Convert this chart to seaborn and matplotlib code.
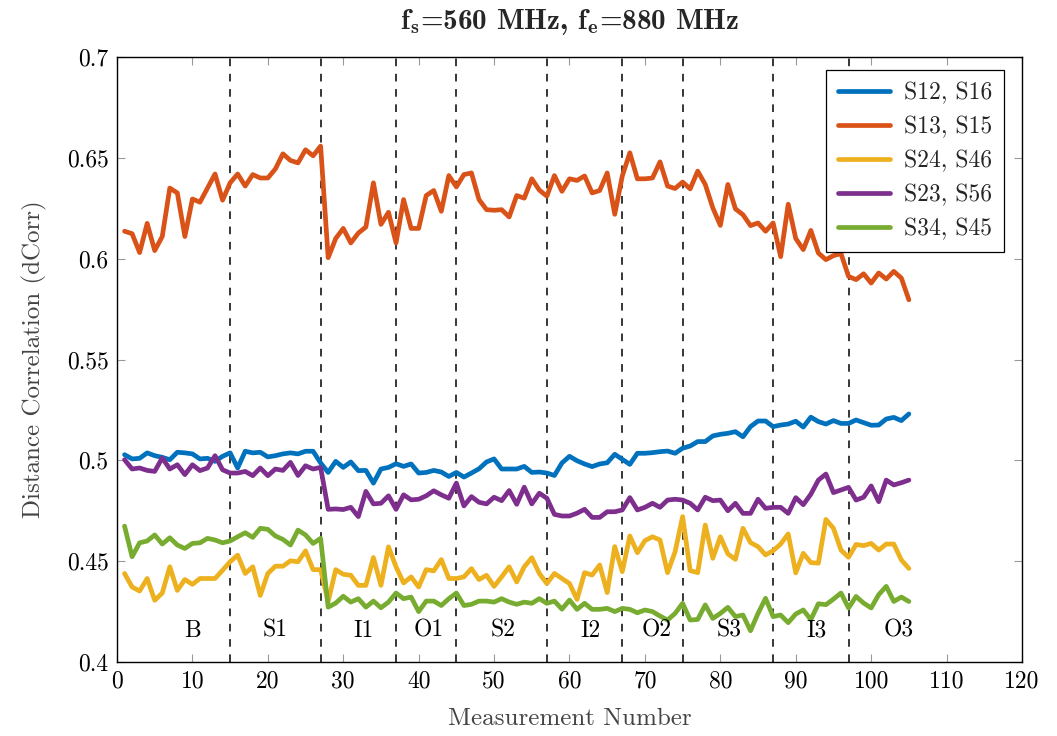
import numpy as np
import pandas as pd
import matplotlib
matplotlib.use("Agg")
import matplotlib.pyplot as plt
import seaborn as sns

measurement = list(range(1, 106))

s12_s16 = [0.5028, 0.5007, 0.5010, 0.5037, 0.5023, 0.5015, 0.5003, 0.5040, 0.5037, 0.5032,
           0.5007, 0.5010, 0.4995, 0.5020, 0.5037, 0.4962, 0.5045, 0.5037, 0.5040, 0.5017,
           0.5023, 0.5032, 0.5037, 0.5032, 0.5045, 0.5045, 0.4987, 0.4940, 0.4995, 0.4965,
           0.4992, 0.4949, 0.4950, 0.4887, 0.4957, 0.4965, 0.4983, 0.4970, 0.4982, 0.4937,
           0.4940, 0.4950, 0.4942, 0.4920, 0.4940, 0.4917, 0.4937, 0.4958, 0.4992, 0.5007,
           0.4957, 0.4957, 0.4957, 0.4970, 0.4940, 0.4942, 0.4937, 0.4925, 0.4987, 0.5020,
           0.4998, 0.4982, 0.4969, 0.4982, 0.4988, 0.5030, 0.5005, 0.4980, 0.5035, 0.5035,
           0.5038, 0.5043, 0.5046, 0.5035, 0.5060, 0.5071, 0.5093, 0.5093, 0.5121, 0.5129,
           0.5134, 0.5142, 0.5117, 0.5167, 0.5195, 0.5195, 0.5167, 0.5175, 0.5180, 0.5194,
           0.5165, 0.5214, 0.5192, 0.5180, 0.5197, 0.5183, 0.5183, 0.5200, 0.5187, 0.5174,
           0.5175, 0.5205, 0.5213, 0.5197, 0.5230]

s13_s15 = [0.6136, 0.6124, 0.6030, 0.6175, 0.6040, 0.6110, 0.6350, 0.6326, 0.6110, 0.6296,
           0.6280, 0.6350, 0.6420, 0.6290, 0.6376, 0.6420, 0.6360, 0.6417, 0.6400, 0.6400,
           0.6445, 0.6520, 0.6487, 0.6475, 0.6540, 0.6510, 0.6558, 0.6005, 0.6100, 0.6150,
           0.6078, 0.6127, 0.6157, 0.6376, 0.6170, 0.6230, 0.6078, 0.6293, 0.6150, 0.6150,
           0.6313, 0.6338, 0.6235, 0.6412, 0.6356, 0.6417, 0.6425, 0.6293, 0.6243, 0.6240,
           0.6243, 0.6207, 0.6313, 0.6300, 0.6396, 0.6340, 0.6310, 0.6412, 0.6334, 0.6396,
           0.6388, 0.6410, 0.6326, 0.6338, 0.6425, 0.6220, 0.6410, 0.6525, 0.6396, 0.6396,
           0.6400, 0.6480, 0.6360, 0.6348, 0.6380, 0.6346, 0.6434, 0.6368, 0.6252, 0.6165,
           0.6368, 0.6247, 0.6218, 0.6164, 0.6177, 0.6136, 0.6177, 0.6010, 0.6270, 0.6100,
           0.6045, 0.6140, 0.6028, 0.5995, 0.6015, 0.6025, 0.5912, 0.5896, 0.5925, 0.5879,
           0.5929, 0.5899, 0.5937, 0.5904, 0.5796]

s24_s46 = [0.4439, 0.4372, 0.4352, 0.4414, 0.4306, 0.4342, 0.4472, 0.4355, 0.4409, 0.4385,
           0.4414, 0.4414, 0.4414, 0.4455, 0.4497, 0.4530, 0.4439, 0.4472, 0.4330, 0.4439,
           0.4475, 0.4475, 0.4502, 0.4497, 0.4551, 0.4458, 0.4458, 0.4300, 0.4458, 0.4435,
           0.4430, 0.4380, 0.4380, 0.4518, 0.4380, 0.4571, 0.4472, 0.4392, 0.4422, 0.4372,
           0.4458, 0.4452, 0.4508, 0.4414, 0.4414, 0.4422, 0.4463, 0.4409, 0.4430, 0.4375,
           0.4422, 0.4472, 0.4397, 0.4472, 0.4517, 0.4439, 0.4389, 0.4439, 0.4414, 0.4389,
           0.4310, 0.4443, 0.4431, 0.4481, 0.4344, 0.4572, 0.4448, 0.4625, 0.4542, 0.4602,
           0.4621, 0.4605, 0.4443, 0.4547, 0.4721, 0.4453, 0.4443, 0.4679, 0.4514, 0.4621,
           0.4536, 0.4509, 0.4663, 0.4592, 0.4572, 0.4531, 0.4552, 0.4585, 0.4635, 0.4442,
           0.4539, 0.4493, 0.4490, 0.4707, 0.4663, 0.4555, 0.4519, 0.4583, 0.4577, 0.4588,
           0.4555, 0.4585, 0.4585, 0.4506, 0.4464]

s23_s56 = [0.5003, 0.4957, 0.4962, 0.4950, 0.4945, 0.5012, 0.4957, 0.4978, 0.4929, 0.4978,
           0.4949, 0.4962, 0.5023, 0.4953, 0.4937, 0.4937, 0.4945, 0.4924, 0.4962, 0.4924,
           0.4957, 0.4950, 0.4990, 0.4925, 0.4973, 0.4957, 0.4965, 0.4757, 0.4759, 0.4756,
           0.4767, 0.4721, 0.4846, 0.4784, 0.4787, 0.4824, 0.4757, 0.4829, 0.4804, 0.4807,
           0.4824, 0.4849, 0.4829, 0.4812, 0.4887, 0.4774, 0.4820, 0.4792, 0.4784, 0.4817,
           0.4800, 0.4850, 0.4782, 0.4867, 0.4784, 0.4837, 0.4812, 0.4732, 0.4724, 0.4724,
           0.4738, 0.4757, 0.4717, 0.4717, 0.4745, 0.4745, 0.4754, 0.4815, 0.4754, 0.4767,
           0.4787, 0.4767, 0.4803, 0.4807, 0.4803, 0.4787, 0.4754, 0.4817, 0.4800, 0.4803,
           0.4750, 0.4787, 0.4737, 0.4737, 0.4807, 0.4762, 0.4767, 0.4767, 0.4737, 0.4815,
           0.4780, 0.4832, 0.4902, 0.4932, 0.4840, 0.4853, 0.4866, 0.4803, 0.4817, 0.4873,
           0.4795, 0.4902, 0.4878, 0.4889, 0.4902]

s34_s45 = [0.4674, 0.4522, 0.4591, 0.4600, 0.4630, 0.4585, 0.4616, 0.4580, 0.4563, 0.4588,
           0.4591, 0.4613, 0.4605, 0.4591, 0.4600, 0.4621, 0.4641, 0.4618, 0.4663, 0.4658,
           0.4625, 0.4608, 0.4580, 0.4654, 0.4630, 0.4588, 0.4613, 0.4272, 0.4292, 0.4326,
           0.4297, 0.4314, 0.4272, 0.4302, 0.4269, 0.4297, 0.4342, 0.4314, 0.4322, 0.4250,
           0.4302, 0.4302, 0.4280, 0.4314, 0.4342, 0.4280, 0.4286, 0.4302, 0.4302, 0.4297,
           0.4314, 0.4297, 0.4286, 0.4297, 0.4291, 0.4314, 0.4291, 0.4302, 0.4262, 0.4307,
           0.4261, 0.4291, 0.4261, 0.4261, 0.4266, 0.4250, 0.4266, 0.4261, 0.4244, 0.4258,
           0.4250, 0.4228, 0.4208, 0.4241, 0.4291, 0.4208, 0.4211, 0.4283, 0.4216, 0.4241,
           0.4271, 0.4225, 0.4233, 0.4155, 0.4241, 0.4316, 0.4225, 0.4233, 0.4195, 0.4238,
           0.4258, 0.4210, 0.4289, 0.4284, 0.4312, 0.4342, 0.4268, 0.4325, 0.4292, 0.4268,
           0.4334, 0.4375, 0.4300, 0.4322, 0.4300]

series_names = ["S12, S16", "S13, S15", "S24, S46", "S23, S56", "S34, S45"]
series_values = [s12_s16, s13_s15, s24_s46, s23_s56, s34_s45]
colors = ["#0072BD", "#D95319", "#EDB120", "#7E2F8E", "#77AC30"]

boundaries = [15, 27, 37, 45, 57, 67, 75, 87, 97]
phase_labels = ["B", "S1", "I1", "O1", "S2", "I2", "O2", "S3", "I3", "O3"]
phase_label_x = [10, 21, 32.7, 41.3, 51.2, 62.8, 71.5, 81.2, 92.8, 103.6]

xticks = list(range(0, 121, 10))
yticks = [0.4, 0.45, 0.5, 0.55, 0.6, 0.65, 0.7]
ytick_labels = ["0.4", "0.45", "0.5", "0.55", "0.6", "0.65", "0.7"]

frames = []
for name, vals in zip(series_names, series_values):
    frames.append(pd.DataFrame({"Measurement": measurement, "dCorr": vals, "Pair": name}))
df = pd.concat(frames, ignore_index=True)

sns.set_style("ticks")
plt.rcParams["font.family"] = ["cmr10", "DejaVu Serif"]
plt.rcParams["mathtext.fontset"] = "cm"
plt.rcParams["axes.formatter.use_mathtext"] = True
plt.rcParams["axes.unicode_minus"] = False

FS = 17

fig = plt.figure(figsize=(10.57, 7.36), dpi=100)
ax = fig.add_axes([117 / 1057, 1 - 662 / 736, (1022 - 117) / 1057, (662 - 57) / 736])

sns.lineplot(data=df, x="Measurement", y="dCorr", hue="Pair", hue_order=series_names,
             palette=colors, linewidth=3.4, ax=ax, legend=True)

for b in boundaries:
    ax.axvline(b, color="black", linestyle=(0, (5, 5)), linewidth=1.1, zorder=1)

for lab, lx in zip(phase_labels, phase_label_x):
    ax.text(lx, 0.4155, lab, ha="center", va="center", fontsize=FS, color="black")

ax.set_xlim(0, 120)
ax.set_ylim(0.4, 0.7)
ax.set_xticks(xticks)
ax.set_xticklabels([str(t) for t in xticks])
ax.set_yticks(yticks)
ax.set_yticklabels(ytick_labels)
ax.tick_params(axis="both", which="major", direction="in", length=6, width=0.8,
               color="#999999", labelsize=FS, labelcolor="black",
               top=True, right=True, pad=6)
for sp in ax.spines.values():
    sp.set_color("black")
    sp.set_linewidth(1.0)

ax.set_xlabel("Measurement Number", fontsize=18, color="#444444", labelpad=11)
ax.set_ylabel("Distance Correlation (dCorr)", fontsize=18, color="#444444", labelpad=14)
ax.set_title(r"f$_{\mathbf{s}}$=560 MHz, f$_{\mathbf{e}}$=880 MHz", fontsize=21,
             family=["cmb10", "DejaVu Serif"], pad=20)

leg = ax.legend(loc="upper right", bbox_to_anchor=(1 - 18 / 905, 1 - 13 / 605),
                fontsize=FS, frameon=True, fancybox=False, edgecolor="black",
                framealpha=1, handlelength=2.2, labelspacing=0.5, borderpad=0.5,
                handletextpad=0.6, borderaxespad=0)
leg.get_frame().set_linewidth(0.9)
for line in leg.get_lines():
    line.set_linewidth(3.4)

fig.savefig("out.png", dpi=100)
